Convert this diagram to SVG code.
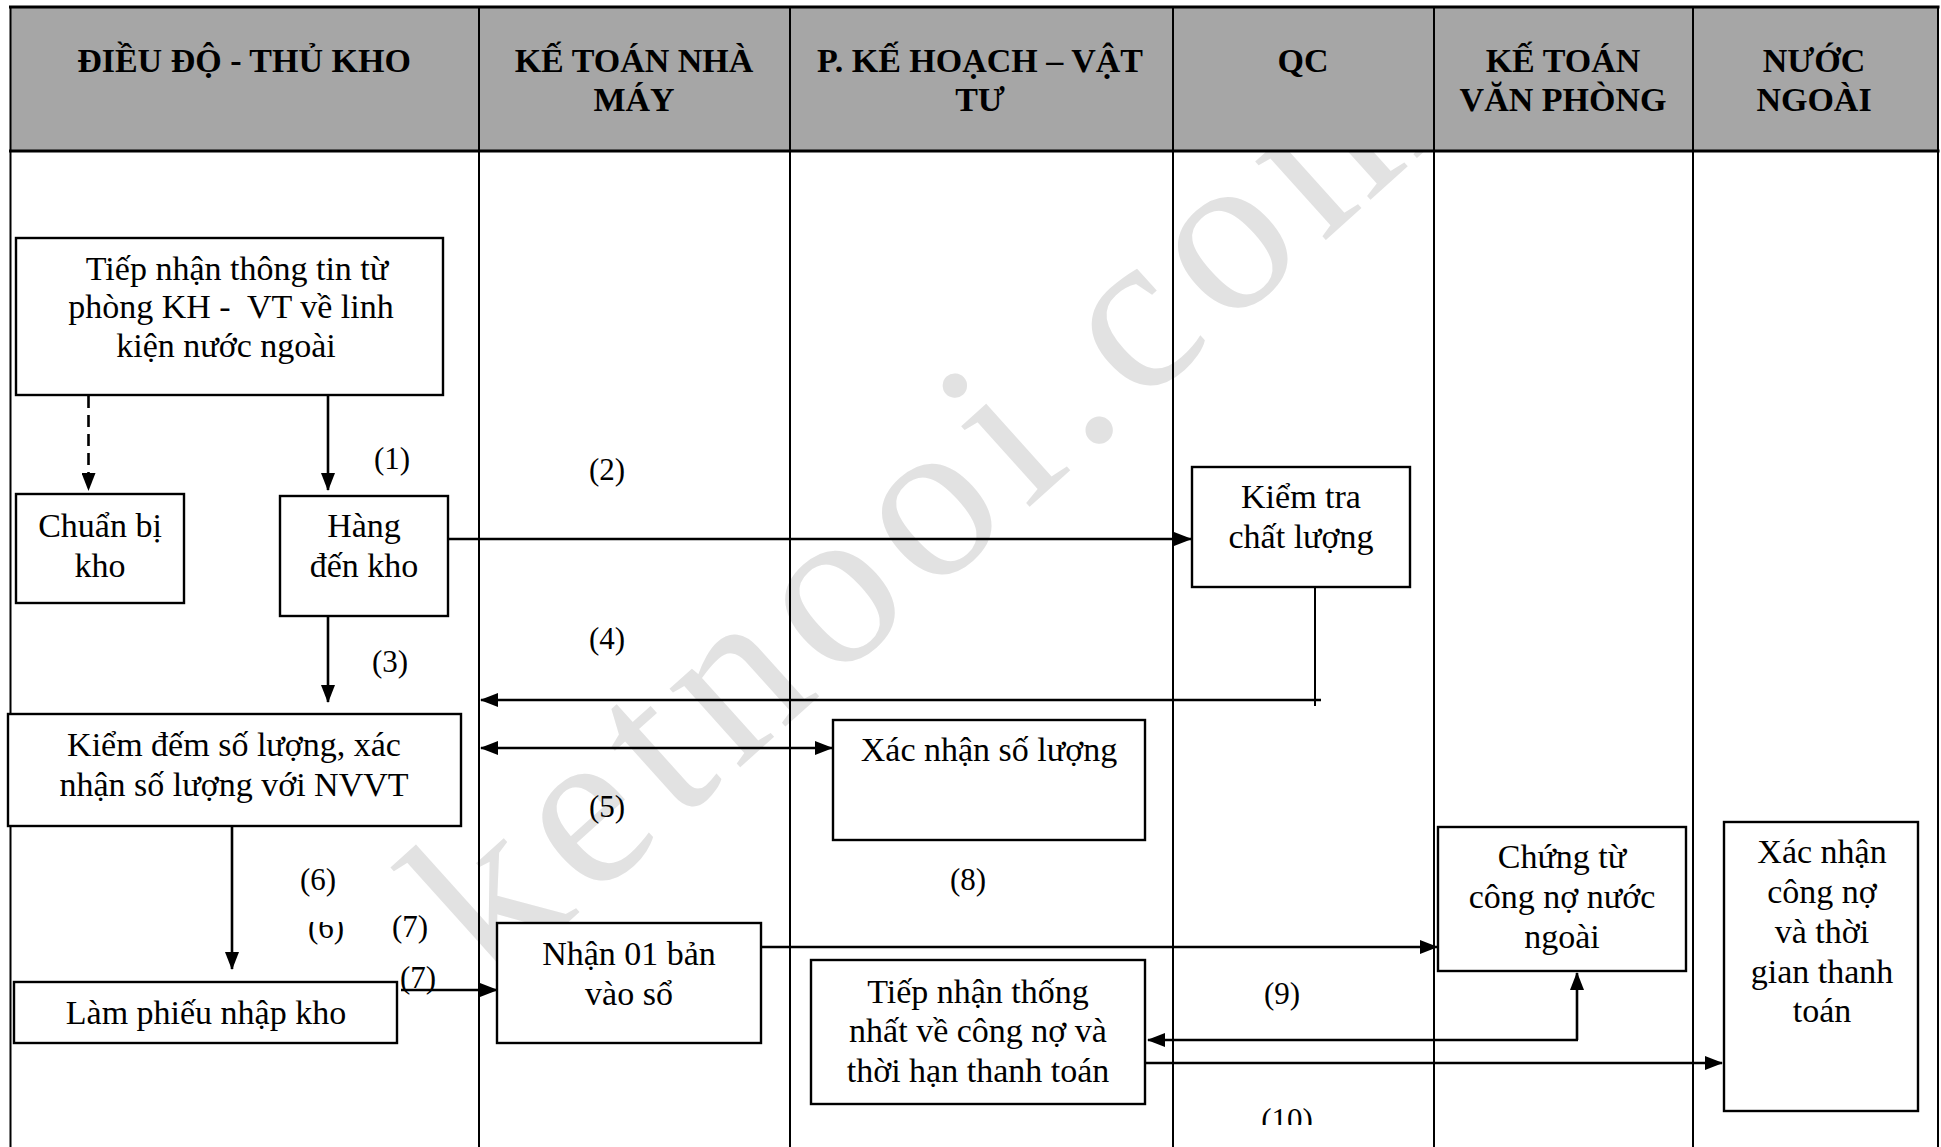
<svg xmlns="http://www.w3.org/2000/svg" width="1941" height="1147" viewBox="0 0 1941 1147">
<style>
.hdr{font-family:"Liberation Serif","Times New Roman",serif;font-weight:bold;font-size:34px;fill:#000;text-anchor:middle}
.txt{font-family:"Liberation Serif","Times New Roman",serif;font-size:34px;fill:#000;text-anchor:middle}
.lbl{font-family:"Liberation Serif","Times New Roman",serif;font-size:31px;fill:#000;text-anchor:middle}
.box{fill:#fff;stroke:#000;stroke-width:2.4}
.lane{stroke:#000;stroke-width:2}
.con{fill:none;stroke:#000;stroke-width:2.6}
.wm{font-family:"Liberation Serif","Times New Roman",serif;font-size:230px;letter-spacing:15px;fill:#e2e2e2}
</style>
<defs>
<marker id="ah" markerUnits="userSpaceOnUse" markerWidth="18" markerHeight="14" refX="17" refY="7" orient="auto-start-reverse">
<path d="M0,0 L18,7 L0,14 Z" fill="#000"/>
</marker>
<clipPath id="clip6"><rect x="290" y="922" width="80" height="40"/></clipPath>
<clipPath id="clip10"><rect x="1240" y="1090" width="100" height="35"/></clipPath>
<clipPath id="clipwm"><rect x="0" y="152" width="1941" height="995"/></clipPath>
</defs>
<rect x="0" y="0" width="1941" height="1147" fill="#fff"/>
<g id="watermark" clip-path="url(#clipwm)">
<text class="wm" transform="translate(494,989) rotate(-42)">ketnooi.com</text>
</g>
<g id="lanes">
<rect x="10.5" y="7" width="1927.5" height="144" fill="#a6a6a6"/>
<line class="lane" x1="10.5" y1="7" x2="10.5" y2="1147"/>
<line class="lane" x1="1938" y1="7" x2="1938" y2="1147"/>
<line x1="9" y1="7" x2="1939.5" y2="7" stroke="#000" stroke-width="3"/>
<line x1="9" y1="151" x2="1939.5" y2="151" stroke="#000" stroke-width="3"/>
<line class="lane" x1="479" y1="7" x2="479" y2="1147"/>
<line class="lane" x1="790" y1="7" x2="790" y2="1147"/>
<line class="lane" x1="1173" y1="7" x2="1173" y2="1147"/>
<line class="lane" x1="1434" y1="7" x2="1434" y2="1147"/>
<line class="lane" x1="1693" y1="7" x2="1693" y2="1147"/>
<text class="hdr" x="244" y="72">ĐIỀU ĐỘ - THỦ KHO</text>
<text class="hdr" x="634" y="72">KẾ TOÁN NHÀ</text>
<text class="hdr" x="634" y="111">MÁY</text>
<text class="hdr" x="980" y="72">P. KẾ HOẠCH – VẬT</text>
<text class="hdr" x="980" y="111">TƯ</text>
<text class="hdr" x="1303" y="72">QC</text>
<text class="hdr" x="1563" y="72">KẾ TOÁN</text>
<text class="hdr" x="1563" y="111">VĂN PHÒNG</text>
<text class="hdr" x="1814" y="72">NƯỚC</text>
<text class="hdr" x="1814" y="111">NGOÀI</text>
</g>
<g id="connectors">
<line class="con" x1="88.5" y1="396" x2="88.5" y2="490" stroke-dasharray="12 7" marker-end="url(#ah)"/>
<line class="con" x1="328" y1="396" x2="328" y2="490" marker-end="url(#ah)"/>
<line class="con" x1="448" y1="539" x2="1191" y2="539" marker-end="url(#ah)"/>
<line class="con" x1="328" y1="616" x2="328" y2="702" marker-end="url(#ah)"/>
<line x1="1315" y1="587" x2="1315" y2="706" stroke="#000" stroke-width="2"/>
<line class="con" x1="1321" y1="700" x2="481" y2="700" marker-end="url(#ah)"/>
<line class="con" x1="481" y1="748" x2="832" y2="748" marker-start="url(#ah)" marker-end="url(#ah)"/>
<line class="con" x1="232" y1="823" x2="232" y2="969" marker-end="url(#ah)"/>
<line class="con" x1="401" y1="990" x2="497" y2="990" marker-end="url(#ah)"/>
<line class="con" x1="761" y1="947" x2="1437" y2="947" marker-end="url(#ah)"/>
<line class="con" x1="1577" y1="1040" x2="1577" y2="973" marker-end="url(#ah)"/>
<line class="con" x1="1578" y1="1040" x2="1148" y2="1040" marker-end="url(#ah)"/>
<line class="con" x1="1145" y1="1063" x2="1722" y2="1063" marker-end="url(#ah)"/>
<text class="lbl" x="392" y="469">(1)</text>
<text class="lbl" x="607" y="480">(2)</text>
<text class="lbl" x="390" y="672">(3)</text>
<text class="lbl" x="607" y="649">(4)</text>
<text class="lbl" x="607" y="817">(5)</text>
<text class="lbl" x="318" y="890">(6)</text>
<text class="lbl" x="326" y="938" clip-path="url(#clip6)">(6)</text>
<text class="lbl" x="410" y="937">(7)</text>
<text class="lbl" x="418" y="988">(7)</text>
<text class="lbl" x="968" y="890">(8)</text>
<text class="lbl" x="1282" y="1004">(9)</text>
<text class="lbl" x="1287" y="1130" clip-path="url(#clip10)">(10)</text>
</g>
<g id="n-tiepnhan">
<rect class="box" x="16" y="238" width="427" height="157"/>
<text class="txt" x="237" y="280">Tiếp nhận thông tin từ</text>
<text class="txt" x="231" y="318" style="white-space:pre">phòng KH -  VT về linh</text>
<text class="txt" x="226" y="357">kiện nước ngoài</text>
</g>
<g id="n-chuanbi">
<rect class="box" x="16" y="494" width="168" height="109"/>
<text class="txt" x="100" y="537">Chuẩn bị</text>
<text class="txt" x="100" y="577">kho</text>
</g>
<g id="n-hang">
<rect class="box" x="280" y="496" width="168" height="120"/>
<text class="txt" x="364" y="537">Hàng</text>
<text class="txt" x="364" y="577">đến kho</text>
</g>
<g id="n-kiemtra">
<rect class="box" x="1192" y="467" width="218" height="120"/>
<text class="txt" x="1301" y="508">Kiểm tra</text>
<text class="txt" x="1301" y="548">chất lượng</text>
</g>
<g id="n-kiemdem">
<rect class="box" x="8" y="714" width="453" height="112"/>
<text class="txt" x="234" y="756">Kiểm đếm số lượng, xác</text>
<text class="txt" x="234" y="796">nhận số lượng với NVVT</text>
</g>
<g id="n-xacnhansl">
<rect class="box" x="833" y="720" width="312" height="120"/>
<text class="txt" x="989" y="761">Xác nhận số lượng</text>
</g>
<g id="n-lamphieu">
<rect class="box" x="14" y="982" width="383" height="61"/>
<text class="txt" x="206" y="1024">Làm phiếu nhập kho</text>
</g>
<g id="n-nhan01">
<rect class="box" x="497" y="923" width="264" height="120"/>
<text class="txt" x="629" y="965">Nhận 01 bản</text>
<text class="txt" x="629" y="1005">vào sổ</text>
</g>
<g id="n-tiepnhanthongnhat">
<rect class="box" x="811" y="960" width="334" height="144"/>
<text class="txt" x="978" y="1003">Tiếp nhận thống</text>
<text class="txt" x="978" y="1042">nhất về công nợ và</text>
<text class="txt" x="978" y="1082">thời hạn thanh toán</text>
</g>
<g id="n-chungtu">
<rect class="box" x="1438" y="827" width="248" height="144"/>
<text class="txt" x="1562" y="868">Chứng từ</text>
<text class="txt" x="1562" y="908">công nợ nước</text>
<text class="txt" x="1562" y="948">ngoài</text>
</g>
<g id="n-xacnhancongno">
<rect class="box" x="1724" y="822" width="194" height="289"/>
<text class="txt" x="1822" y="863">Xác nhận</text>
<text class="txt" x="1822" y="903">công nợ</text>
<text class="txt" x="1822" y="943">và thời</text>
<text class="txt" x="1822" y="983">gian thanh</text>
<text class="txt" x="1822" y="1022">toán</text>
</g>
</svg>
